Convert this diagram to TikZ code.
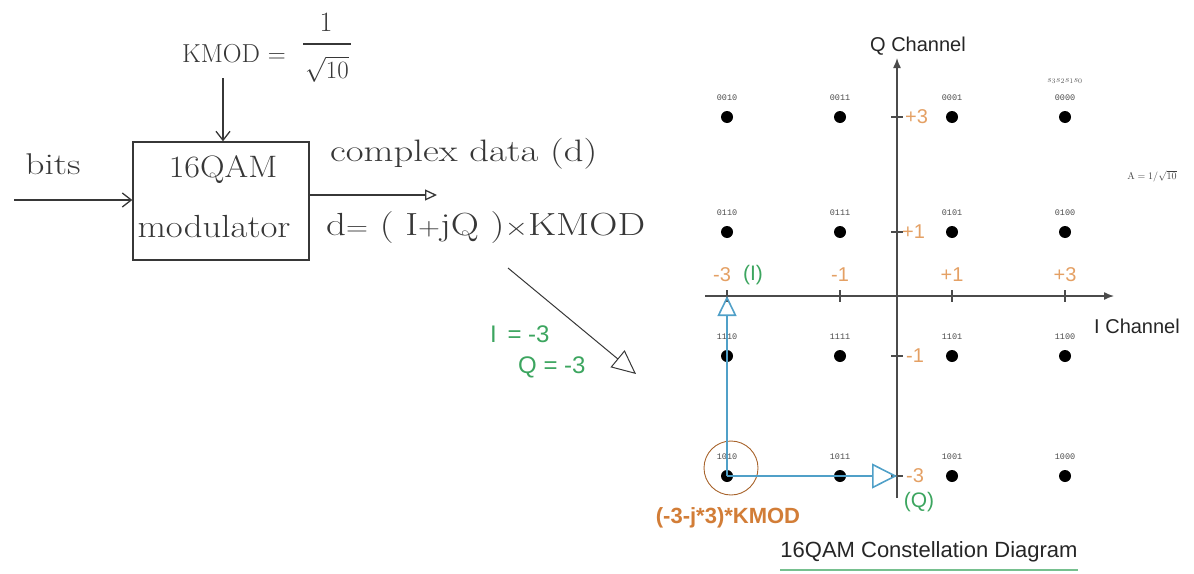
\documentclass[tikz,border=0pt]{standalone}
\usepackage{fontspec}
\usepackage{graphicx}
\newfontfamily\arial{Liberation Sans}
\newfontfamily\mono{Liberation Mono}
\usetikzlibrary{arrows.meta}
\definecolor{lblorange}{RGB}{228,160,100}
\definecolor{darkorange}{RGB}{210,125,55}
\definecolor{lblgreen}{RGB}{60,165,95}
\definecolor{pathblue}{RGB}{80,160,200}
\definecolor{axisgray}{RGB}{75,75,75}
\definecolor{pen}{RGB}{55,55,55}
\begin{document}
\begin{tikzpicture}[x=1pt,y=-1pt,
  hand/.style={text=pen, inner sep=0},
  penline/.style={draw=pen, line width=1.3},
  dot/.style={circle, fill=black, inner sep=0, minimum size=12},
  bitlbl/.style={font=\mono\fontsize{8.5}{9}\selectfont, text=black!70, inner sep=0},
  axisline/.style={draw=axisgray, line width=1.4, -{Latex[length=10,width=8]}},
  tickmark/.style={draw=axisgray, line width=1.2},
  olbl/.style={font=\arial\fontsize{20}{22}\selectfont, text=lblorange, inner sep=0},
  glbl/.style={font=\arial\fontsize{21}{22}\selectfont, text=lblgreen, inner sep=0},
  bluearrow/.style={draw=pathblue, line width=1.6},
  alabel/.style={font=\arial\fontsize{20}{22}\selectfont, text=black!85, inner sep=0}
]
\useasboundingbox (0,0) rectangle (1194,573);

% ---------- left: hand-drawn block diagram ----------
\node[hand, font=\fontsize{26}{28}\selectfont, anchor=west] (kmod) at (182,54) {KMOD $=$};
\node[hand, font=\fontsize{28}{30}\selectfont] (knum) at (326,22) {1};
\node[hand, font=\fontsize{26}{28}\selectfont] (kden) at (327,69) {$\sqrt{10}$};
\draw[draw=pen, line width=1.2] (303,44) -- (351,44);
\node[draw=pen, line width=1.3, minimum width=176, minimum height=118, inner sep=0] (mod) at (221,201) {};
\node[hand, font=\fontsize{31}{33}\selectfont] (t16) at (223,170) {\scalebox{1.1}[1]{16QAM}};
\node[hand, font=\fontsize{32}{34}\selectfont] (tmod) at (214,227) {\scalebox{1.15}[1]{modulator}};
\node[hand, font=\fontsize{30}{32}\selectfont] (bits) at (53,164) {\scalebox{1.25}[1]{bits}};
\coordinate (bitsin) at (14,200);
\draw[penline, -{Straight Barb[length=9,width=14]}] (bitsin) -- (mod.west |- bitsin);
\coordinate (kin) at (223,78);
\draw[penline, -{Straight Barb[length=9,width=14]}] (kin) -- (mod.north -| kin);
\coordinate (dout) at (437,195);
\draw[penline, -{Triangle[open,length=12,width=11]}] (mod.east |- dout) -- (dout);
\node[hand, font=\fontsize{31}{33}\selectfont, anchor=west] (cdata) at (330,154) {\scalebox{1.25}[1]{complex data (d)}};
\node[hand, font=\fontsize{32}{34}\selectfont, anchor=west] (dform) at (326,228) {\scalebox{1.22}[1]{d$=$ ( I$+$jQ )$\times$KMOD}};
\coordinate (diagstart) at (508,268);
\coordinate (diagend) at (636,374);
\draw[draw=pen, line width=1, -{Triangle[open,length=24,width=22]}] (diagstart) -- (diagend);
\node[glbl, font=\arial\fontsize{24}{26}\selectfont, anchor=west] (ieq) at (490,334) {I\, = -3};
\node[glbl, font=\arial\fontsize{24}{26}\selectfont, anchor=west] (qeq) at (518,367) {Q = -3};

% ---------- right: constellation ----------
\coordinate (ybot) at (897,498);
\coordinate (ytop) at (897,58);
\coordinate (xleft) at (705,296);
\coordinate (xright) at (1114,296);
\draw[axisline] (ybot) -- (ytop);
\draw[axisline] (xleft) -- (xright);
\node[alabel] (qch) at (918,46) {Q Channel};
\node[alabel, anchor=west] (ich) at (1094,326) {I Channel};

% points
\foreach \b/\x/\y in {0010/727/117, 0011/840/117, 0001/952/117, 0000/1065/117,
                      0110/727/232, 0111/840/232, 0101/952/232, 0100/1065/232,
                      1110/727/356, 1111/840/356, 1101/952/356, 1100/1065/356,
                      1010/727/476, 1011/840/476, 1001/952/476, 1000/1065/476}{
  \node[dot] (p\b) at (\x,\y) {};
  \node[bitlbl] (l\b) at (\x,\y-19) {\b};
}
\node[font=\fontsize{9.5}{10}\selectfont, text=black!65, inner sep=0] (sbits) at (1065,81) {$s_3s_2s_1s_0$};
\node[font=\fontsize{10}{11}\selectfont, text=black!75, inner sep=0] (anorm) at (1152,176) {$\mathrm{A}=1/\sqrt{10}$};

% ticks
\foreach \x/\n in {727/a, 840/b, 952/c, 1065/d}{
  \coordinate (ix\n) at (\x,296);
  \draw[tickmark] (\x,290) -- (\x,302);
}
\foreach \y/\n in {117/a, 232/b, 356/c, 476/d}{
  \coordinate (qy\n) at (897,\y);
  \draw[tickmark] (891,\y) -- (903,\y);
}

% axis value labels
\node[olbl] (im3) at (722,275) {-3};
\node[glbl] (ilab) at (753,275) {(I)};
\node[olbl] (im1) at (840,275) {-1};
\node[olbl] (ip1) at (952,275) {+1};
\node[olbl] (ip3) at (1065,275) {+3};
\node[olbl, anchor=west] (qp3) at (905,117) {+3};
\node[olbl, anchor=west] (qp1) at (902,232) {+1};
\node[olbl, anchor=west] (qm1) at (906,356) {-1};
\node[olbl, anchor=west] (qm3) at (906,476) {-3};
\node[glbl] (qlab) at (919,502) {(Q)};

% highlighted symbol
\node[circle, draw=darkorange!80!black, line width=0.9, minimum size=54, inner sep=0] (hl) at (731,468) {};
\draw[bluearrow, -{Triangle[open,length=20,width=19]}] (p1010.center) -- (ixa);
\draw[bluearrow, -{Triangle[open,length=25,width=25]}] (p1010.center) -- (qyd);
\node[font=\arial\bfseries\fontsize{22}{24}\selectfont, text=darkorange, inner sep=0] (sym) at (728,518) {(-3-j*3)*KMOD};

% title
\node[alabel, font=\arial\fontsize{22}{24}\selectfont] (title) at (929,552) {16QAM Constellation Diagram};
\draw[draw=lblgreen!70, line width=2] (title.west |- 0,570) -- (title.east |- 0,570);
\end{tikzpicture}
\end{document}
